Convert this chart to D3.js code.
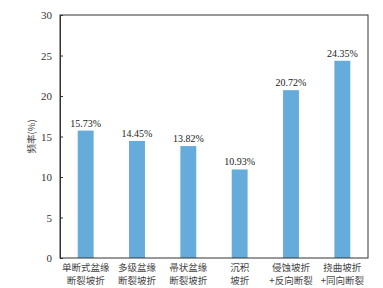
<!DOCTYPE html>
<html>
<head>
<meta charset="utf-8">
<script src="https://cdn.jsdelivr.net/npm/d3@7"></script>
<style>
  body { margin: 0; background: #fff; }
  svg { display: block; }
  .value-label { font-family: "Liberation Serif", "DejaVu Serif", serif; font-size: 10px; fill: #222; }
  .cat-label { font-family: "Noto Sans CJK SC", sans-serif; font-size: 9.5px; fill: #444; }
</style>
</head>
<body>
<div id="wrapper"></div>
<script>
const categories = [
  ["单断式盆缘", "断裂坡折"],
  ["多级盆缘", "断裂坡折"],
  ["帚状盆缘", "断裂坡折"],
  ["沉积", "坡折"],
  ["侵蚀坡折", "+反向断裂"],
  ["挠曲坡折", "+同向断裂"],
]
const values = [15.73, 14.45, 13.82, 10.93, 20.72, 24.35]
const yTicks = [0, 5, 10, 15, 20, 25, 30]

const dimensions = {
  width: 383,
  height: 288,
  margin: { top: 15, right: 15, bottom: 30, left: 60 },
}
dimensions.boundedWidth = dimensions.width - dimensions.margin.left - dimensions.margin.right
dimensions.boundedHeight = dimensions.height - dimensions.margin.top - dimensions.margin.bottom

const wrapper = d3.select("#wrapper")
  .append("svg")
    .attr("width", dimensions.width)
    .attr("height", dimensions.height)

const bounds = wrapper.append("g")
  .attr("transform", `translate(${dimensions.margin.left},${dimensions.margin.top})`)

const xScale = d3.scaleBand()
  .domain(d3.range(categories.length))
  .range([0, dimensions.boundedWidth])
  .paddingInner(0.69)
  .paddingOuter(0.345)

const yScale = d3.scaleLinear()
  .domain([0, 30])
  .range([dimensions.boundedHeight, 0])

// bars
bounds.selectAll(".bar")
  .data(values)
  .enter().append("rect")
    .attr("class", "bar")
    .attr("x", (d, i) => xScale(i))
    .attr("y", d => yScale(d))
    .attr("width", xScale.bandwidth())
    .attr("height", d => dimensions.boundedHeight - yScale(d))
    .attr("fill", "#66acdb")

bounds.selectAll(".value-label")
  .data(values)
  .enter().append("text")
    .attr("class", "value-label")
    .attr("x", (d, i) => xScale(i) + xScale.bandwidth() / 2)
    .attr("y", d => yScale(d) - 4)
    .attr("text-anchor", "middle")
    .text(d => `${d3.format(".2f")(d)}%`)

// frame
bounds.append("rect")
  .attr("width", dimensions.boundedWidth)
  .attr("height", dimensions.boundedHeight)
  .attr("fill", "none")
  .attr("stroke", "#333")
  .attr("stroke-width", 1)

// y axis, ticks pointing inwards
const yAxis = bounds.append("g")
  .attr("font-family", "Liberation Serif, DejaVu Serif, serif")
  .attr("font-size", 11)
  .call(d3.axisLeft(yScale).tickValues(yTicks).tickSizeInner(-3).tickSizeOuter(0).tickPadding(8))
yAxis.attr("font-family", "Liberation Serif, DejaVu Serif, serif").attr("font-size", 11)
yAxis.select(".domain").attr("stroke", "#333")
yAxis.selectAll(".tick line").attr("stroke", "#333")
yAxis.selectAll(".tick text").attr("fill", "#333")

// x labels, one text per line
categories.forEach((lines, i) => {
  lines.forEach((line, j) => {
    bounds.append("text")
      .attr("class", "cat-label")
      .attr("text-anchor", "middle")
      .attr("x", xScale(i) + xScale.bandwidth() / 2)
      .attr("y", dimensions.boundedHeight + 13 + j * 13)
      .text(line)
  })
})

// y title
wrapper.append("text")
  .attr("class", "cat-label")
  .attr("text-anchor", "middle")
  .attr("transform", `translate(35,${dimensions.margin.top + dimensions.boundedHeight / 2}) rotate(-90)`)
  .text("频率(%)")
</script>
</body>
</html>
